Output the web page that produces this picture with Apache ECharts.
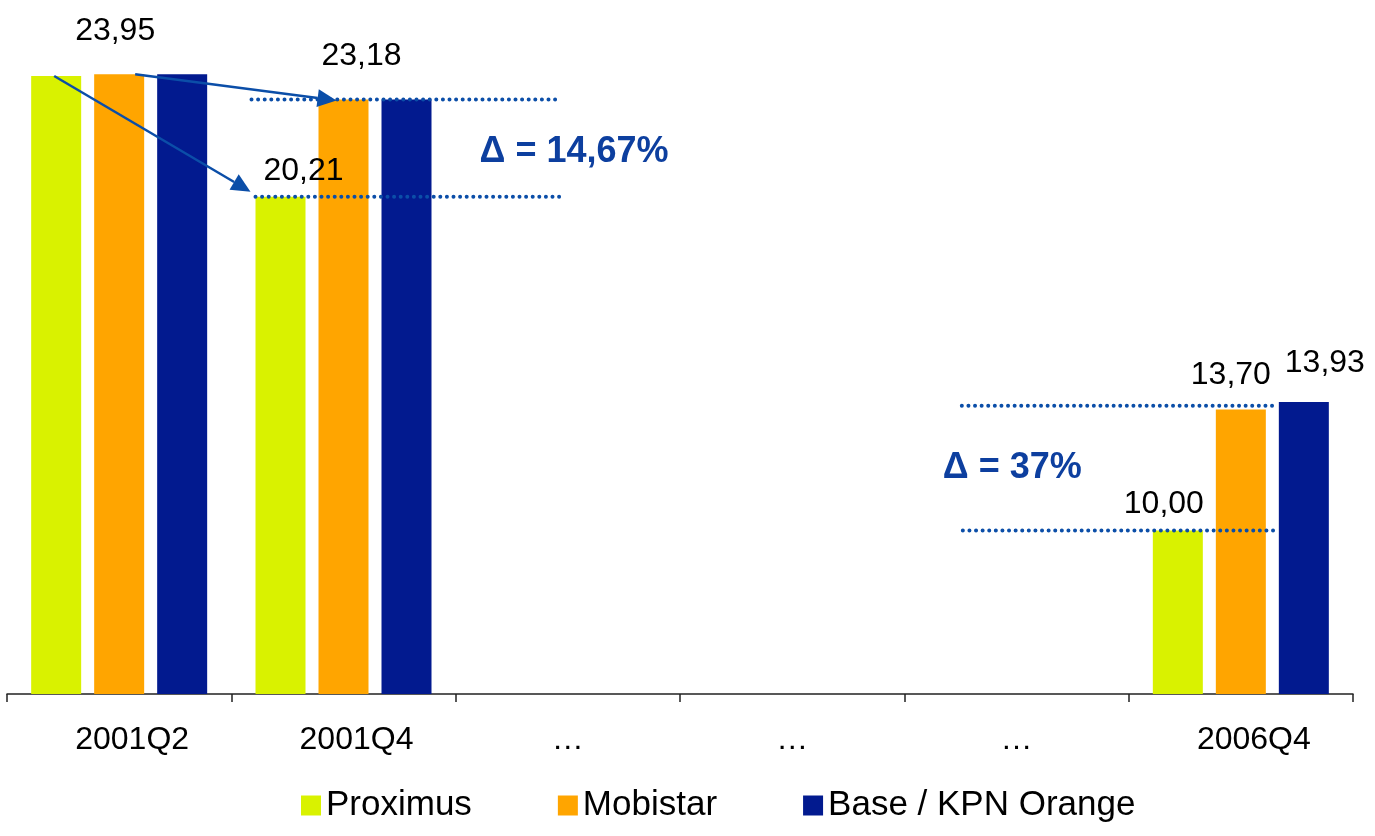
<!DOCTYPE html>
<html>
<head>
<meta charset="utf-8">
<script src="https://cdn.jsdelivr.net/npm/echarts@6/dist/echarts.min.js"></script>
<style>
  html, body { margin: 0; padding: 0; background: #fff; }
  #chart { width: 1375px; height: 836px; }
</style>
</head>
<body>
<div id="chart"></div>
<script>
const categories = ['2001Q2', '2001Q4', '…', '…', '…', '2006Q4'];
const seriesNames = ['Proximus', 'Mobistar', 'Base / KPN Orange'];
const proximus = [23.9, 20.21, null, null, null, 10.00];
const mobistar = [23.95, 23.18, null, null, null, 13.70];
const base = [23.95, 23.18, null, null, null, 13.93];
const deltaTexts = ['Δ = 14,67%', 'Δ = 37%'];

const colors = ['#d9f200', '#ffa500', '#021a8f'];
const blue = '#0b4ea8';
const font = 'Liberation Sans, Arial, sans-serif';

// which values carry a printed label, and where it sits
const labelSpots = {
  0: { 1: [9, 23], 5: [10, -14] },
  1: { 0: [27, -4], 1: [27, 18], 5: [18, -10] },
  2: { 5: [23, 21] }
};

const fmt = v => v.toFixed(2).replace('.', ',');

function makeData(values, s) {
  return values.map((v, i) => {
    const spot = labelSpots[s][i];
    if (v == null || !spot) return v;
    return {
      value: v,
      label: {
        show: true, position: 'top', distance: spot[0], offset: [spot[1], 0],
        formatter: p => fmt(p.value), fontSize: 32, color: '#000', fontFamily: font
      }
    };
  });
}

const chart = echarts.init(document.getElementById('chart'));

chart.setOption({
  animation: false,
  color: colors,
  grid: { left: 7, right: 22, top: 40, bottom: 142 },
  legend: {
    left: 296, top: 783,
    itemWidth: 20, itemHeight: 20, itemGap: 86,
    icon: 'rect',
    textStyle: { fontSize: 35, color: '#000', fontFamily: font },
    data: seriesNames
  },
  xAxis: {
    type: 'category',
    data: categories,
    axisLine: { lineStyle: { color: '#222', width: 1.5 } },
    axisTick: { show: true, length: 8, lineStyle: { color: '#222', width: 1.5 } },
    axisLabel: {
      margin: 30, fontSize: 32, color: '#000', fontFamily: font,
      formatter: v => /^\d/.test(v) ? '{y|' + v + '}' : v,
      rich: { y: { fontSize: 32, color: '#000', fontFamily: font, padding: [0, 0, 0, 26] } }
    }
  },
  yAxis: { type: 'value', min: 5, max: 25, show: false, splitLine: { show: false } },
  series: [proximus, mobistar, base].map((vals, s) => ({
    name: seriesNames[s],
    type: 'bar',
    barWidth: 50,
    barGap: '26%',
    data: makeData(vals, s)
  }))
});

// annotations: dotted reference lines, arrows and delta texts
const px = (cat, val) => chart.convertToPixel({ xAxisIndex: 0, yAxisIndex: 0 }, [cat, val]);
const STEP = 63, HALF = 25;

function dotted(x1, x2, y) {
  return {
    type: 'line', z: 100,
    shape: { x1, y1: y, x2, y2: y },
    style: { stroke: blue, lineWidth: 4, lineDash: [0, 6.6], lineCap: 'round' }
  };
}

function arrow(x1, y1, x2, y2) {
  const a = Math.atan2(y2 - y1, x2 - x1), L = 19, W = 9;
  const bx = x2 - L * Math.cos(a), by = y2 - L * Math.sin(a);
  return [
    { type: 'line', z: 100, shape: { x1, y1, x2: bx, y2: by }, style: { stroke: blue, lineWidth: 2.5 } },
    { type: 'polygon', z: 100,
      shape: { points: [[x2, y2], [bx + W * Math.sin(a), by - W * Math.cos(a)], [bx - W * Math.sin(a), by + W * Math.cos(a)]] },
      style: { fill: blue } }
  ];
}

function deltaText(text, x, y) {
  return {
    type: 'text', z: 100,
    style: { text, x, y, fill: '#0d3f9f', font: 'bold 36px ' + font, verticalAlign: 'middle' }
  };
}

const c1a = px(0, mobistar[0]), c1p = px(0, proximus[0]);
const q4m = px(1, mobistar[1]), q4p = px(1, proximus[1]);
const q6b = px(5, (mobistar[5] + base[5]) / 2), q6p = px(5, proximus[5]);

const graphics = [
  dotted(q4m[0] - 92, q4m[0] + 218, q4m[1]),
  dotted(q4p[0] - 88, q4p[0] + 222, q4p[1]),
  dotted(q6b[0] - 279, q6b[0] + 34, q6b[1]),
  dotted(q6p[0] - 278, q6p[0] + 36, q6p[1]),
  ...arrow(c1p[0] - STEP - 2, c1p[1], q4p[0] - STEP - HALF - 5, q4p[1] - 5),
  ...arrow(c1a[0] + 16, c1a[1], q4m[0] - HALF + 18, q4m[1] + 1),
  deltaText(deltaTexts[0], q4m[0] + 136, (q4m[1] + q4p[1]) / 2 + 4),
  deltaText(deltaTexts[1], q6p[0] - 298, (q6b[1] + q6p[1]) / 2)
];

chart.setOption({ graphic: graphics });
</script>
</body>
</html>
